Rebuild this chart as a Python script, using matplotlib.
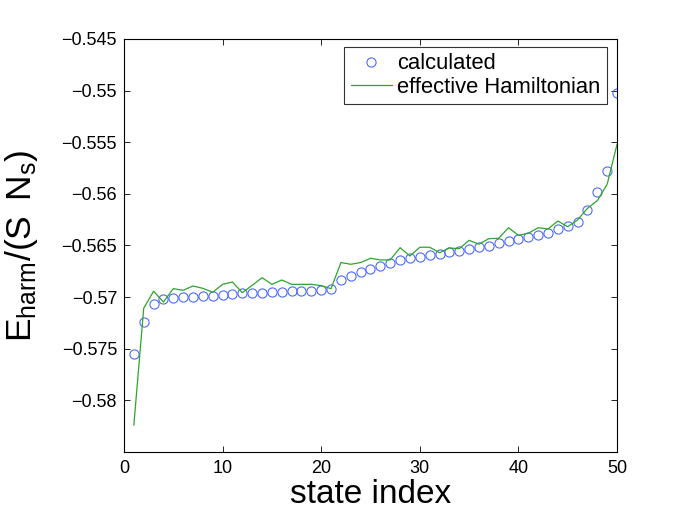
import numpy as np
import matplotlib
matplotlib.use('Agg')
import matplotlib.pyplot as plt

plt.rcParams['font.family'] = ['Liberation Sans', 'DejaVu Sans']
plt.rcParams['mathtext.fontset'] = 'custom'
plt.rcParams['mathtext.rm'] = 'Liberation Sans'
plt.rcParams['mathtext.it'] = 'Liberation Sans'

state_index = np.arange(1, 51)

calculated = [
    -0.57548, -0.57244, -0.57069, -0.57020, -0.57010, -0.57002, -0.56996, -0.56986, -0.56986, -0.56979,
    -0.56967, -0.56963, -0.56957, -0.56957, -0.56953, -0.56947, -0.56944, -0.56938, -0.56938, -0.56934,
    -0.56923, -0.56834, -0.56797, -0.56761, -0.56730, -0.56699, -0.56672, -0.56645, -0.56623, -0.56608,
    -0.56594, -0.56582, -0.56566, -0.56553, -0.56537, -0.56519, -0.56503, -0.56476, -0.56459, -0.56439,
    -0.56420, -0.56403, -0.56376, -0.56338, -0.56308, -0.56275, -0.56153, -0.55979, -0.55777, -0.55020,
]

effective = [
    -0.58239, -0.57108, -0.56943, -0.57047, -0.56918, -0.56934, -0.56892, -0.56915, -0.56953, -0.56876,
    -0.56854, -0.56957, -0.56886, -0.56812, -0.56876, -0.56834, -0.56876, -0.56876, -0.56876, -0.56889,
    -0.56918, -0.56665, -0.56682, -0.56665, -0.56624, -0.56640, -0.56640, -0.56521, -0.56602, -0.56517,
    -0.56517, -0.56570, -0.56524, -0.56531, -0.56450, -0.56487, -0.56434, -0.56430, -0.56328, -0.56401,
    -0.56382, -0.56328, -0.56340, -0.56263, -0.56318, -0.56253, -0.56140, -0.56066, -0.55907, -0.55522,
]

xticks = [0, 10, 20, 30, 40, 50]
yticks = [-0.58, -0.575, -0.57, -0.565, -0.56, -0.555, -0.55, -0.545]
ytick_labels = ['\u22120.58', '\u22120.575', '\u22120.57', '\u22120.565',
                '\u22120.56', '\u22120.555', '\u22120.55', '\u22120.545']

fig = plt.figure(figsize=(6.82, 5.13), dpi=100)
ax = fig.add_axes([0.1818, 0.1189, 0.7229, 0.8051])

ax.plot(state_index, calculated, 'o', mfc='none', mec='#4262ff', ms=6.6, mew=0.75,
        label='calculated')
ax.plot(state_index, effective, '-', color='#2ea52a', lw=0.9,
        label='effective Hamiltonian')

ax.set_xlim(0, 50)
ax.set_ylim(-0.585, -0.545)
ax.set_xticks(xticks)
ax.set_yticks(yticks)
ax.set_yticklabels(ytick_labels)

ax.tick_params(direction='in', length=4, width=0.6, top=True, right=True,
               labelsize=13)
ax.tick_params(axis='x', pad=6)
ax.tick_params(axis='y', pad=5)
for sp in ax.spines.values():
    sp.set_linewidth(0.8)

ax.set_xlabel('state index', fontsize=24, labelpad=1)
ax.set_ylabel(r'$\mathregular{E_{harm}/(S\ \,N_s)}$', fontsize=25.5)
ax.yaxis.set_label_coords(-0.171, 0.5)

leg = ax.legend(loc='upper right', bbox_to_anchor=(0.980, 0.981), borderaxespad=0,
                fontsize=15.8, handlelength=1.86, handletextpad=0.25,
                borderpad=0.3, labelspacing=0.1, fancybox=False, framealpha=1,
                edgecolor='#333333')
leg.get_frame().set_linewidth(0.8)

plt.savefig('out.png', dpi=100)
